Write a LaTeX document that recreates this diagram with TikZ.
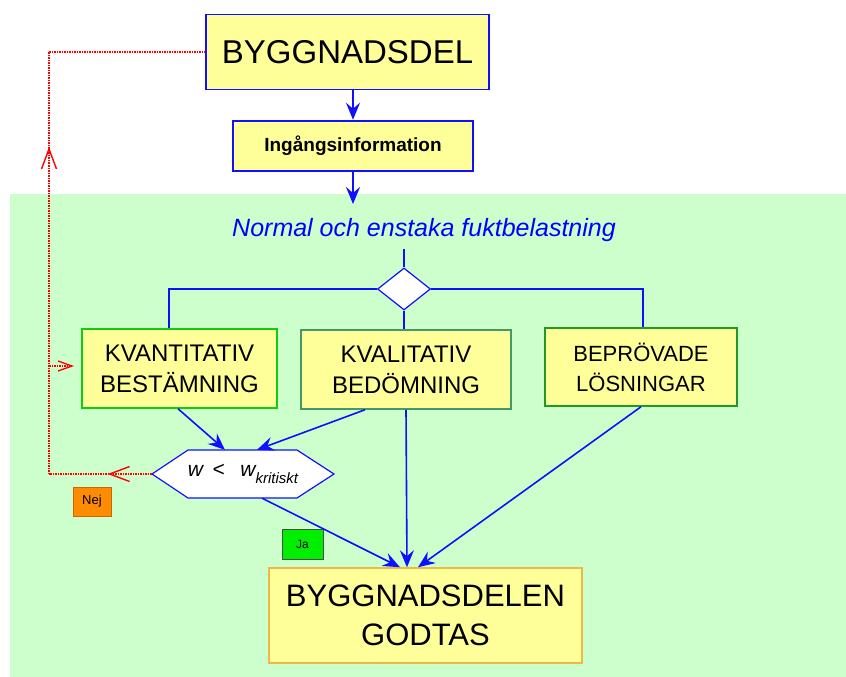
\documentclass[tikz,border=0pt]{standalone}
\usepackage{fontspec}
\setmainfont{Liberation Sans}
\usepackage{tikz}
\usetikzlibrary{arrows.meta}
\usetikzlibrary{shapes.geometric}
\usetikzlibrary{decorations.markings}

\definecolor{fuktgreen}{HTML}{CCFFCC}
\definecolor{boxyellow}{HTML}{FFFF99}
\definecolor{flowblue}{HTML}{1010FF}
\definecolor{kvantgreen}{HTML}{11CC11}
\definecolor{kvalgreen}{HTML}{449966}
\definecolor{beprgreen}{HTML}{229922}
\definecolor{godtasedge}{HTML}{F0B848}
\definecolor{jagreen}{HTML}{00EE00}
\definecolor{nejorange}{HTML}{FF8C00}

\tikzset{
  flowbox/.style={fill=boxyellow, inner sep=0pt, align=center, text=black},
  flow/.style={draw=flowblue, line width=1.6pt, -{Stealth[length=17pt,width=14pt,inset=6pt]}},
  link/.style={draw=flowblue, line width=1.3pt},
  nejline/.style={draw=red, line width=1.5pt, dash pattern=on 1.5pt off 1pt},
  midtip/.style={postaction={decorate}, decoration={markings,
      mark=at position #1 with {\arrow{Straight Barb[length=20pt,width=15pt,line width=1.4pt]}}}},
}

\begin{document}
\begin{tikzpicture}[line cap=butt,line join=miter,x=1.0pt,y=-1.0pt]
\useasboundingbox (0,0) rectangle (846,677);
\fill[fuktgreen] (10,194) rectangle (846,677);

% boxes
\node[flowbox, draw=flowblue, line width=1.5pt, minimum width=283, minimum height=75,
  font=\fontsize{33}{38}\selectfont] (byggdel) at (347.5,52) {BYGGNADSDEL};
\node[flowbox, draw=flowblue, line width=2.5pt, minimum width=240, minimum height=50,
  font=\bfseries\fontsize{19}{22}\selectfont] (info) at (353,146) {Ingångsinformation};
\node[text=blue, font=\itshape\fontsize{25}{28}\selectfont] (load) at (424,230)
  {Normal och enstaka fuktbelastning};
\node[diamond, draw=flowblue, line width=1.2pt, fill=white, inner sep=0pt,
  minimum width=53, minimum height=42] (choice) at (404,289) {};

\node[flowbox, draw=kvantgreen, line width=1.5pt, minimum width=195, minimum height=79,
  font=\fontsize{24}{31}\selectfont] (kvant) at (179.5,368.5) {KVANTITATIV\\BESTÄMNING};
\node[flowbox, draw=kvalgreen, line width=1.5pt, minimum width=210, minimum height=79,
  font=\fontsize{24}{31}\selectfont] (kval) at (406,369.5) {KVALITATIV\\BEDÖMNING};
\node[flowbox, draw=beprgreen, line width=1.5pt, minimum width=192, minimum height=78,
  font=\fontsize{22}{30}\selectfont] (bepr) at (641,367) {BEPRÖVADE\\LÖSNINGAR};

% kontroll
\draw[draw=flowblue, line width=1.2pt, fill=white]
  (152,474) -- (188,450) -- (297,450) -- (334,474) -- (297,498) -- (188,498) -- cycle;
\node[inner sep=0pt, minimum width=182, minimum height=48,
  font=\itshape\fontsize{21}{24}\selectfont] (hex) at (243,474)
  {w\hspace{0.45em}<\hspace{0.75em}w\raisebox{-0.6ex}{\fontsize{15}{15}\selectfont kritiskt}};

\node[flowbox, draw=godtasedge, line width=1.5pt, minimum width=313, minimum height=95,
  font=\fontsize{31}{39}\selectfont] (final) at (425.5,615.5) {BYGGNADSDELEN\\GODTAS};

\node[fill=jagreen, draw=black!70, line width=0.8pt, minimum width=41, minimum height=30,
  inner sep=0pt, font=\fontsize{12}{14}\selectfont] (ja) at (302.5,544) {Ja};
\node[fill=nejorange, draw=orange!80!black, line width=0.8pt, minimum width=38, minimum height=29,
  inner sep=0pt, font=\fontsize{13}{15}\selectfont] (nej) at (92,501.5) {Nej};

% free ends
\coordinate (loadin) at (353,204);
\coordinate (loadout) at (404,249);
\coordinate (nejcorner) at (49,474);
\coordinate (nejtop) at (49,52);
\coordinate (nejmid) at (49,366);
\coordinate (kvantin) at (74,366);

% flow
\draw[flow] (byggdel.south -| info.north) -- (info.north);
\draw[flow] (info.south) -- (loadin);
\draw[link] (loadout) -- (choice.north);
\draw[link] (choice.west) -| ([xshift=-10.5]kvant.north);
\draw[link] (choice.east) -| ([xshift=2]bepr.north);
\draw[link] (choice.south) -- (choice.south |- kval.north);
\draw[flow] ([xshift=-1.5]kvant.south) -- ([xshift=-18]hex.north);
\draw[flow] ([xshift=-41]kval.south) -- ([xshift=14]hex.north);
\draw[flow] ([xshift=19]hex.south) -- ([xshift=-25.5]final.north);
\draw[flow] (kval.south) -- ([xshift=-18.5]final.north);
\draw[flow] (bepr.south) -- ([xshift=-7.5]final.north);

% nej
\draw[nejline, midtip=0.43] (hex.west) -- (nejcorner);
\draw[nejline, midtip=0.775] (nejcorner) -- (nejtop);
\draw[nejline] (nejtop) -- (byggdel.west);
\draw[nejline, -{Straight Barb[length=14pt,width=10pt,line width=1.3pt]}] (nejmid) -- (kvantin);
\end{tikzpicture}
\end{document}
